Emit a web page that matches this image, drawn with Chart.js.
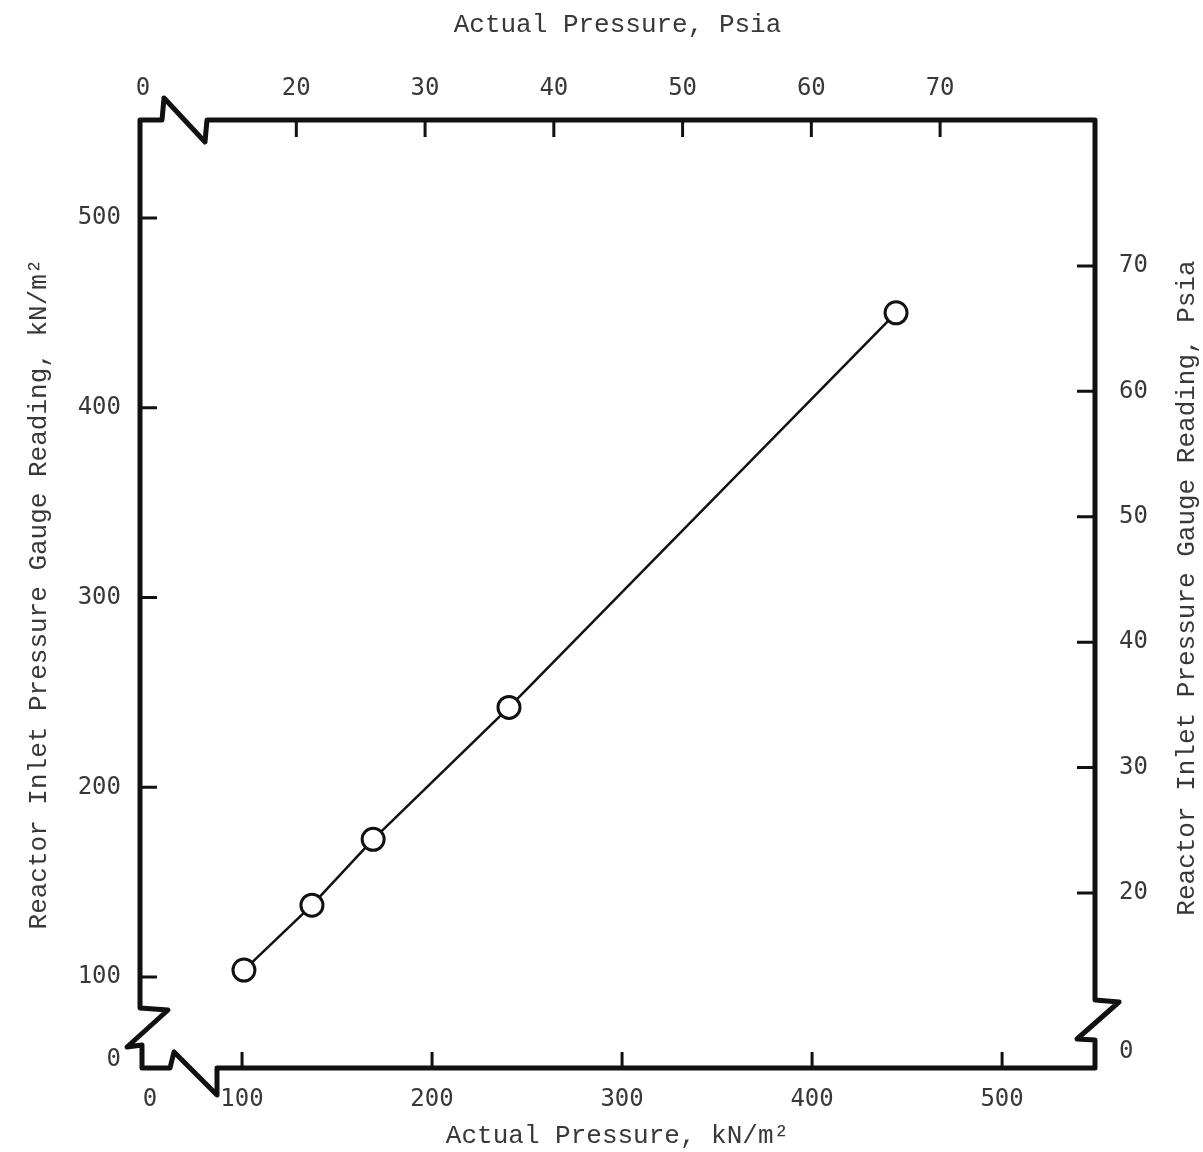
<!DOCTYPE html>
<html>
<head>
<meta charset="utf-8">
<script src="https://cdn.jsdelivr.net/npm/chart.js@4.4.1/dist/chart.umd.min.js"></script>
<style>
  html, body { margin: 0; padding: 0; background: #fff; }
  #wrap { width: 1203px; height: 1152px; }
</style>
</head>
<body>
<div id="wrap"><canvas id="gaugeChart"></canvas></div>
<script>
// calibration points, kN/m^2
const actualPressure = [101, 136.8, 169, 240.5, 444.2];
const gaugeReading = [103.7, 137.9, 172.6, 242.1, 450];

// tick values
const bottomTicks = [100, 200, 300, 400, 500];
const leftTicks = [100, 200, 300, 400, 500];
const topTicks = [20, 30, 40, 50, 60, 70];
const rightTicks = [20, 30, 40, 50, 60, 70];

// where the "0" label sits on each broken axis (axis units)
const zeroLabelAt = { x: 51.6, y: 56.3, x2: 8.1, y2: 7.3 };

const tickFont = { family: 'DejaVu Sans Mono', size: 24 };
const titleFont = { family: 'Liberation Mono', size: 26 };
const textColor = '#383838';

function zeroTicks(id, list) {
    return s => { s.ticks = [zeroLabelAt[id], ...list].map(v => ({ value: v })); };
}
function zeroLabel(id) {
    return v => (v === zeroLabelAt[id] ? '0' : String(v));
}

// frame with axis breaks + inward tick marks + right-hand title
const brokenFrame = {
    id: 'brokenFrame',
    afterDraw(chart) {
        const ctx = chart.ctx;
        const { left: L, top: T, right: R, bottom: B } = chart.chartArea;
        const sc = chart.scales;
        ctx.save();
        ctx.strokeStyle = '#111';
        ctx.lineWidth = 5;
        ctx.lineJoin = 'round';
        ctx.lineCap = 'round';
        ctx.beginPath();
        ctx.moveTo(L, B - 60);
        ctx.lineTo(L, T);
        ctx.lineTo(L + 22, T);
        ctx.lineTo(L + 24, T - 22);
        ctx.lineTo(L + 65, T + 22);
        ctx.lineTo(L + 67, T);
        ctx.lineTo(R, T);
        ctx.lineTo(R, B - 68);
        ctx.lineTo(R + 24, B - 66);
        ctx.lineTo(R - 18, B - 29);
        ctx.lineTo(R, B - 28);
        ctx.lineTo(R, B);
        ctx.lineTo(L + 77, B);
        ctx.lineTo(L + 77, B + 27);
        ctx.lineTo(L + 34, B - 16);
        ctx.lineTo(L + 30, B);
        ctx.lineTo(L + 2, B);
        ctx.lineTo(L + 2, B - 23);
        ctx.lineTo(L - 13, B - 21);
        ctx.lineTo(L + 28, B - 58);
        ctx.closePath();
        ctx.stroke();

        ctx.lineWidth = 3;
        ctx.lineCap = 'butt';
        ctx.beginPath();
        bottomTicks.forEach(v => { const p = sc.x.getPixelForValue(v); ctx.moveTo(p, B); ctx.lineTo(p, B - 16); });
        topTicks.forEach(v => { const p = sc.x2.getPixelForValue(v); ctx.moveTo(p, T); ctx.lineTo(p, T + 17); });
        leftTicks.forEach(v => { const p = sc.y.getPixelForValue(v); ctx.moveTo(L, p); ctx.lineTo(L + 17, p); });
        rightTicks.forEach(v => { const p = sc.y2.getPixelForValue(v); ctx.moveTo(R, p); ctx.lineTo(R - 18, p); });
        ctx.stroke();

        ctx.fillStyle = textColor;
        ctx.font = titleFont.size + 'px "' + titleFont.family + '"';
        ctx.textAlign = 'center';
        ctx.textBaseline = 'middle';
        ctx.translate(1187, (T + B) / 2 - 6);
        ctx.rotate(-Math.PI / 2);
        ctx.fillText('Reactor Inlet Pressure Gauge Reading, Psia', 0, 0);
        ctx.restore();
    }
};

const ctx = document.getElementById('gaugeChart').getContext('2d');
const gaugeChart = new Chart(ctx, {
    type: 'scatter',
    data: {
        datasets: [{
            label: 'Gauge reading',
            data: actualPressure.map((v, i) => ({ x: v, y: gaugeReading[i] })),
            showLine: true,
            borderColor: '#111',
            borderWidth: 2.5,
            pointRadius: 11,
            pointBorderWidth: 3,
            pointBackgroundColor: '#fff',
            pointBorderColor: '#111',
            xAxisID: 'x',
            yAxisID: 'y'
        }]
    },
    options: {
        responsive: true,
        maintainAspectRatio: false,
        animation: false,
        layout: { padding: 0 },
        plugins: { legend: { display: false }, tooltip: { enabled: false } },
        scales: {
            x: {
                type: 'linear', position: 'bottom', min: 46.3, max: 548.9,
                border: { display: false },
                grid: { display: false, drawTicks: false },
                ticks: { autoSkip: false, maxRotation: 0, padding: 17, font: tickFont, color: textColor, callback: zeroLabel('x') },
                title: { display: true, text: 'Actual Pressure, kN/m²', font: titleFont, color: textColor, padding: { top: 0, bottom: 0 } },
                afterBuildTicks: zeroTicks('x', bottomTicks),
                afterFit: s => { s.height = 84; }
            },
            x2: {
                type: 'linear', position: 'top', min: 7.86, max: 82.03,
                border: { display: false },
                grid: { display: false, drawTicks: false },
                ticks: { autoSkip: false, maxRotation: 0, padding: 17, font: tickFont, color: textColor, callback: zeroLabel('x2') },
                title: { display: true, text: 'Actual Pressure, Psia', font: titleFont, color: textColor, padding: { top: 10, bottom: 0 } },
                afterBuildTicks: zeroTicks('x2', topTicks),
                afterFit: s => { s.height = 120; }
            },
            y: {
                type: 'linear', position: 'left', min: 52.1, max: 551.6,
                border: { display: false },
                grid: { display: false, drawTicks: false },
                ticks: { autoSkip: false, padding: 19, font: tickFont, color: textColor, callback: zeroLabel('y') },
                title: { display: true, text: 'Reactor Inlet Pressure Gauge Reading, kN/m²', font: titleFont, color: textColor, padding: { top: 24, bottom: 0 } },
                afterBuildTicks: zeroTicks('y', leftTicks),
                afterFit: s => { s.width = 140; }
            },
            y2: {
                type: 'linear', position: 'right', min: 6.04, max: 81.64,
                border: { display: false },
                grid: { display: false, drawTicks: false },
                ticks: { autoSkip: false, padding: 24, font: tickFont, color: textColor, callback: zeroLabel('y2') },
                title: { display: false },
                afterBuildTicks: zeroTicks('y2', rightTicks),
                afterFit: s => { s.width = 108; }
            }
        }
    },
    plugins: [brokenFrame]
});
</script>
</body>
</html>
